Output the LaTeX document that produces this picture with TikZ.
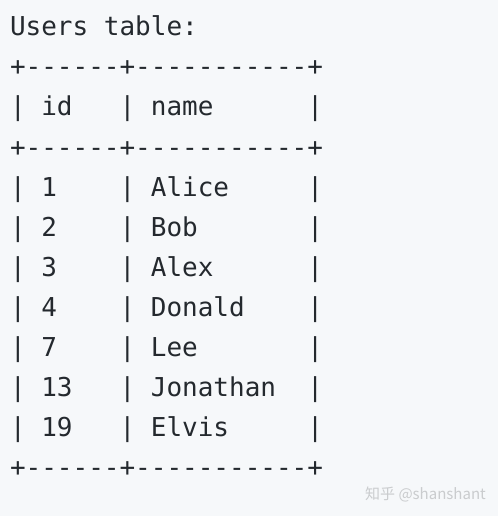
\documentclass[tikz,border=0pt]{standalone}
\usepackage{fontspec}
\newfontfamily\cjk{Noto Sans CJK SC}
\font\mono="DejaVu Sans Mono" at 26pt
\definecolor{bgc}{HTML}{F6F8FA}
\definecolor{txt}{HTML}{24292E}
\definecolor{wm}{HTML}{CACCCE}
\begin{document}
\begin{tikzpicture}[x=1pt,y=-1pt,
  line/.style={anchor=base west,inner sep=0pt,outer sep=0pt,text=txt,font=\mono},
  wmark/.style={anchor=base east,inner sep=0pt,text=wm,font=\cjk\fontsize{15pt}{15pt}\selectfont}]
\fill[bgc] (0,0) rectangle (498,516);
\useasboundingbox (0,0) rectangle (498,516);
\node[line] (l1) at (10,36) {Users~table:};
\node[line] (l2) at (10,76) {+------+-----------+};
\node[line] (l3) at (10,116) {|~id~~~|~name~~~~~~|};
\node[line] (l4) at (10,156) {+------+-----------+};
\node[line] (l5) at (10,196) {|~1~~~~|~Alice~~~~~|};
\node[line] (l6) at (10,236) {|~2~~~~|~Bob~~~~~~~|};
\node[line] (l7) at (10,276) {|~3~~~~|~Alex~~~~~~|};
\node[line] (l8) at (10,316) {|~4~~~~|~Donald~~~~|};
\node[line] (l9) at (10,356) {|~7~~~~|~Lee~~~~~~~|};
\node[line] (l10) at (10,396) {|~13~~~|~Jonathan~~|};
\node[line] (l11) at (10,436) {|~19~~~|~Elvis~~~~~|};
\node[line] (l12) at (10,476) {+------+-----------+};
\node[wmark] (wm) at (486,499) {知乎 @shanshant};
\end{tikzpicture}
\end{document}
